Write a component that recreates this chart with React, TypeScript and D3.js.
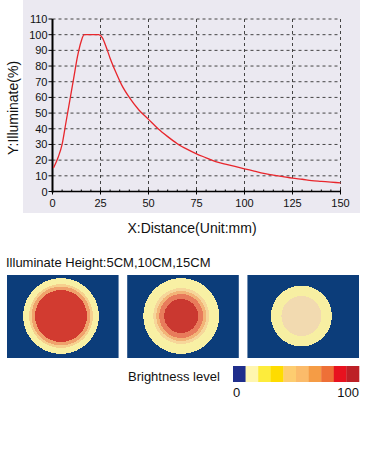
import { useEffect, useRef } from "react";
import * as d3 from "d3";

// illumination profile
const distance = [0.5, 3, 5, 7, 9, 11, 13, 15, 16.5, 20, 24, 26, 28, 30, 33, 36, 40, 45, 50, 55, 60, 65, 70, 75, 80, 85, 90, 95, 100, 105, 110, 115, 120, 125, 130, 135, 140, 145, 150];
const illuminate = [15, 22, 30, 44, 58, 72, 86, 96, 100, 100, 100, 98, 92, 85, 76, 68, 60, 52, 46, 40, 35, 30.5, 27, 24, 21.5, 19, 17.5, 16, 14.5, 13, 11.5, 10.5, 9.5, 8.5, 7.8, 7, 6.5, 6, 5.5];

const xTicks = [0, 25, 50, 75, 100, 125, 150];
const yTicks = [0, 10, 20, 30, 40, 50, 60, 70, 80, 90, 100, 110];

// brightness legend colours, level 0 -> 100
const levelColors = ["#1f2e8c", "#fff6b0", "#fdec3c", "#fedc00", "#fdcd70", "#fbbb6a", "#f59c45", "#ee7037", "#e8121f", "#bd2027"];

// rings for each illumination height (outer -> inner radius, px)
const heights = ["5CM", "10CM", "15CM"];
const ringRadius = [
  [38, 32, 29.5, 26],
  [38, 28, 25, 22, 17],
  [30.5, 20],
];
const ringColor = [
  ["#f8f0a4", "#f6d08e", "#f0a26c", "#d23b30"],
  ["#f8f0a4", "#f6d69a", "#f2b478", "#e87b5b", "#ca3830"],
  ["#f7efa2", "#f2dab0"],
];

export default function App() {
  const ref = useRef<SVGSVGElement>(null);

  useEffect(() => {
    const svg = d3.select(ref.current);
    svg.selectAll("*").remove();
    const font = "Liberation Sans, Arial, sans-serif";

    // marble-ish panel behind the chart
    svg.append("rect").attr("x", 23).attr("y", 0).attr("width", 337).attr("height", 213).attr("fill", "#ebe9f1");

    const left = 52.5, right = 340.5, top = 19, bottom = 191.5;
    const x = d3.scaleLinear().domain([0, 150]).range([left, right]);
    const y = d3.scaleLinear().domain([0, 110]).range([bottom, top]);

    const g = svg.append("g");

    // dashed grid
    g.selectAll(".gx").data(xTicks.slice(1)).join("line")
      .attr("x1", (d) => x(d)).attr("x2", (d) => x(d)).attr("y1", top).attr("y2", bottom)
      .attr("stroke", "#444").attr("stroke-dasharray", "3,3");
    g.selectAll(".gy").data(yTicks.slice(1)).join("line")
      .attr("x1", left).attr("x2", right).attr("y1", (d) => y(d)).attr("y2", (d) => y(d))
      .attr("stroke", "#444").attr("stroke-dasharray", "3,3");

    // axes
    g.append("line").attr("x1", left).attr("x2", left).attr("y1", top).attr("y2", bottom + 1)
      .attr("stroke", "#000").attr("stroke-width", 2);
    g.append("line").attr("x1", left).attr("x2", right).attr("y1", bottom).attr("y2", bottom)
      .attr("stroke", "#000").attr("stroke-width", 1.5);

    g.selectAll(".ty").data(yTicks).join("line")
      .attr("x1", left - 4).attr("x2", left).attr("y1", (d) => y(d)).attr("y2", (d) => y(d))
      .attr("stroke", "#000");
    g.selectAll(".minor").data(d3.range(0, 151, 5)).join("line")
      .attr("x1", (d) => x(d)).attr("x2", (d) => x(d))
      .attr("y1", bottom - 2).attr("y2", (d) => (d % 25 === 0 ? bottom + 3 : bottom))
      .attr("stroke", "#000");

    g.selectAll(".ly").data(yTicks).join("text")
      .attr("x", left - 5).attr("y", (d) => y(d) + 4)
      .attr("text-anchor", "end").attr("font-family", font).attr("font-size", 11).attr("fill", "#111")
      .text((d) => d);
    g.selectAll(".lx").data(xTicks).join("text")
      .attr("x", (d) => x(d)).attr("y", bottom + 15)
      .attr("text-anchor", "middle").attr("font-family", font).attr("font-size", 11).attr("fill", "#111")
      .text((d) => d);

    // curve
    const line = d3.line<number>()
      .x((_, i) => x(distance[i]))
      .y((d) => y(d))
      .curve(d3.curveMonotoneX);
    g.append("path").datum(illuminate)
      .attr("fill", "none").attr("stroke", "#e8262c").attr("stroke-width", 1.3)
      .attr("d", line);

    // axis titles
    svg.append("text").attr("x", 192).attr("y", 233)
      .attr("text-anchor", "middle").attr("font-family", font).attr("font-size", 14).attr("fill", "#111")
      .text("X:Distance(Unit:mm)");
    svg.append("text").attr("transform", "translate(18,108) rotate(-90)")
      .attr("text-anchor", "middle").attr("font-family", font).attr("font-size", 14).attr("fill", "#111")
      .text("Y:Illuminate(%)");

    // heat map panels
    svg.append("text").attr("x", 6).attr("y", 267)
      .attr("font-family", font).attr("font-size", 13).attr("fill", "#111")
      .text("Illuminate Height:" + heights.join(","));

    const panelX = d3.scaleBand<number>().domain([0, 1, 2]).range([7, 359]).paddingInner(0.072);
    heights.forEach((_, i) => {
      const p = svg.append("g").attr("transform", `translate(${panelX(i)},275)`);
      p.append("rect").attr("width", panelX.bandwidth()).attr("height", 83).attr("fill", "#0c3d7a");
      p.selectAll("circle").data(ringRadius[i]).join("circle")
        .attr("cx", 54).attr("cy", 41).attr("r", (d) => d)
        .attr("fill", (_, j) => ringColor[i][j])
        .attr("shape-rendering", "crispEdges");
    });

    // legend
    svg.append("text").attr("x", 128).attr("y", 381)
      .attr("font-family", font).attr("font-size", 13).attr("fill", "#111")
      .text("Brightness level");
    const lx = d3.scaleBand<number>().domain(d3.range(levelColors.length)).range([233, 359]);
    svg.selectAll(".lvl").data(levelColors).join("rect")
      .attr("x", (_, i) => lx(i)!).attr("y", 366).attr("width", lx.bandwidth() + 0.3).attr("height", 16)
      .attr("fill", (d) => d);
    svg.append("text").attr("x", 233).attr("y", 397)
      .attr("font-family", font).attr("font-size", 13).attr("fill", "#111").text("0");
    svg.append("text").attr("x", 359).attr("y", 397).attr("text-anchor", "end")
      .attr("font-family", font).attr("font-size", 13).attr("fill", "#111").text("100");
  }, []);

  return (
    <div style={{ position: "absolute", left: 0, top: 0 }}>
      <svg ref={ref} width={370} height={457} style={{ display: "block", background: "#fff" }} />
    </div>
  );
}
